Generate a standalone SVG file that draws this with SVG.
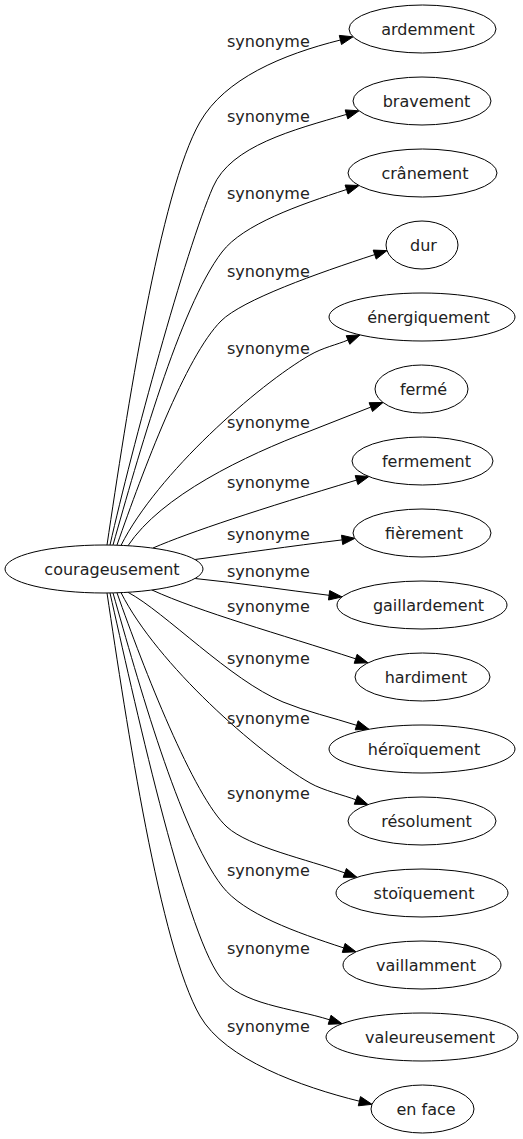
<svg xmlns="http://www.w3.org/2000/svg" width="523" height="1139" viewBox="0 0 523 1139">
<style>
.n ellipse{fill:#fff;stroke:#000;stroke-width:1}
text{font-family:"DejaVu Sans",Verdana,sans-serif;font-size:16px;fill:#222}
.n text{text-anchor:middle}
.e path{fill:none;stroke:#000;stroke-width:1}
.e polygon{fill:#000;stroke:#000;stroke-width:1}
</style>
<rect width="523" height="1139" fill="#fff"/>
<g class="e" id="edges">
<path d="M107,545 C126.5,415 160,191.4 200,122 C224.9,78.6 282.2,54.6 340.4,40"/>
<polygon points="353,36.8 341.5,44.5 339.3,35.4"/>
<path d="M110,545 C132,447.5 185.2,251.3 213,187 C230.9,145.7 293.7,129.8 346.5,114.4"/>
<polygon points="359,110.8 347.8,118.9 345.2,109.9"/>
<path d="M113,545 C137.7,458.4 179.4,307.6 222,252 C243.3,224.2 299.1,205 346.6,189.5"/>
<polygon points="359,185.5 348.1,194 345.1,185"/>
<path d="M117,545 C143.4,469.8 185.6,356.4 221,321 C242.2,299.8 317.7,273.2 374.7,254.6"/>
<polygon points="387,250.6 376.2,259.1 373.2,250.1"/>
<path d="M121,545.4 C157,473.8 257.8,385 310,355 C323,347.5 337,344.7 348,340"/>
<polygon points="360,334.9 349.8,344.3 346.2,335.7"/>
<path d="M128,545.7 C161,495.9 244.5,455.7 310,431 L370.8,407.1"/>
<polygon points="383,402.5 372.5,411.5 369.1,402.7"/>
<path d="M153,548 C190,532 260.7,508.8 356.5,480.1"/>
<polygon points="369,476.4 357.9,484.6 355.2,475.6"/>
<path d="M195,559.5 C240,553.5 290,546.2 342.1,539.9"/>
<polygon points="355,538.3 342.7,544.6 341.5,535.2"/>
<path d="M195,578.5 C240,583 285,590 329.1,595.3"/>
<polygon points="342,596.9 328.5,600 329.7,590.6"/>
<path d="M152,590 C200,612 279.6,634 355.6,658.8"/>
<polygon points="368,662.8 354.2,663.3 357.1,654.3"/>
<path d="M128,592.3 C165,612 230,680 283,702 C306.1,711.6 332.8,717.6 356.6,725.3"/>
<polygon points="369,729.3 355.2,729.8 358.1,720.8"/>
<path d="M121,592.6 C157,664.2 257.8,753 310,783 C323,790.5 344.7,795.4 355.9,799.8"/>
<polygon points="368,804.6 354.2,804.2 357.6,795.4"/>
<path d="M117,592.8 C143.4,668.2 193.7,796.9 227,827 C249.2,847.1 307.2,859.3 344.8,872.9"/>
<polygon points="357,877.3 343.2,877.3 346.4,868.5"/>
<path d="M113,593 C137.7,679.6 179.4,830.4 222,886 C243.3,913.8 296.2,932.4 343.7,947.9"/>
<polygon points="356,951.8 342.3,952.4 345.1,943.4"/>
<path d="M110,593 C132,690.5 184,929 220,977 C241,1005 291.6,1007.8 329.6,1019.8"/>
<polygon points="342,1023.7 328.2,1024.3 331,1015.3"/>
<path d="M107,593 C126.5,723 160,946.6 200,1016 C225,1059.4 301.2,1086.8 359.4,1101.2"/>
<polygon points="372,1104.3 358.3,1105.8 360.5,1096.6"/>
</g>
<g id="labels">
<text x="227" y="47">synonyme</text>
<text x="227" y="122">synonyme</text>
<text x="227" y="199">synonyme</text>
<text x="227" y="277">synonyme</text>
<text x="227" y="354">synonyme</text>
<text x="227" y="428">synonyme</text>
<text x="227" y="488">synonyme</text>
<text x="227" y="540">synonyme</text>
<text x="227" y="577">synonyme</text>
<text x="227" y="612">synonyme</text>
<text x="227" y="664">synonyme</text>
<text x="227" y="724">synonyme</text>
<text x="227" y="799">synonyme</text>
<text x="227" y="876">synonyme</text>
<text x="227" y="954">synonyme</text>
<text x="227" y="1032">synonyme</text>
</g>
<g class="n" id="node-courageusement"><ellipse cx="104" cy="569" rx="99" ry="24"/><text x="112" y="574.5">courageusement</text></g>
<g class="n" id="node-ardemment"><ellipse cx="422.5" cy="29" rx="73.5" ry="24"/><text x="428" y="34.5">ardemment</text></g>
<g class="n" id="node-bravement"><ellipse cx="422" cy="101" rx="69" ry="24"/><text x="426.5" y="106.5">bravement</text></g>
<g class="n" id="node-cranement"><ellipse cx="422.5" cy="173" rx="74.5" ry="24"/><text x="425" y="178.5">crânement</text></g>
<g class="n" id="node-dur"><ellipse cx="422" cy="245" rx="36" ry="24"/><text x="423.5" y="250.5">dur</text></g>
<g class="n" id="node-energiquement"><ellipse cx="422" cy="317" rx="93" ry="24"/><text x="428.5" y="322.5">énergiquement</text></g>
<g class="n" id="node-ferme"><ellipse cx="421.5" cy="389" rx="46.5" ry="24"/><text x="423.5" y="394.5">fermé</text></g>
<g class="n" id="node-fermement"><ellipse cx="422.5" cy="461" rx="70.5" ry="24"/><text x="426.5" y="466.5">fermement</text></g>
<g class="n" id="node-fierement"><ellipse cx="422" cy="533" rx="69" ry="24"/><text x="424" y="538.5">fièrement</text></g>
<g class="n" id="node-gaillardement"><ellipse cx="422" cy="605" rx="85" ry="24"/><text x="428.5" y="610.5">gaillardement</text></g>
<g class="n" id="node-hardiment"><ellipse cx="422.5" cy="677" rx="67.5" ry="24"/><text x="426" y="682.5">hardiment</text></g>
<g class="n" id="node-heroiquement"><ellipse cx="422" cy="749" rx="93" ry="24"/><text x="424" y="754.5">héroïquement</text></g>
<g class="n" id="node-resolument"><ellipse cx="422" cy="821" rx="74" ry="24"/><text x="426.5" y="826.5">résolument</text></g>
<g class="n" id="node-stoiquement"><ellipse cx="422" cy="893" rx="86" ry="24"/><text x="424" y="898.5">stoïquement</text></g>
<g class="n" id="node-vaillamment"><ellipse cx="422" cy="965" rx="79" ry="24"/><text x="426" y="970.5">vaillamment</text></g>
<g class="n" id="node-valeureusement"><ellipse cx="422" cy="1037" rx="96" ry="24"/><text x="430" y="1042.5">valeureusement</text></g>
<g class="n" id="node-en-face"><ellipse cx="422.5" cy="1109" rx="51.5" ry="24"/><text x="426" y="1114.5">en face</text></g>
</svg>
